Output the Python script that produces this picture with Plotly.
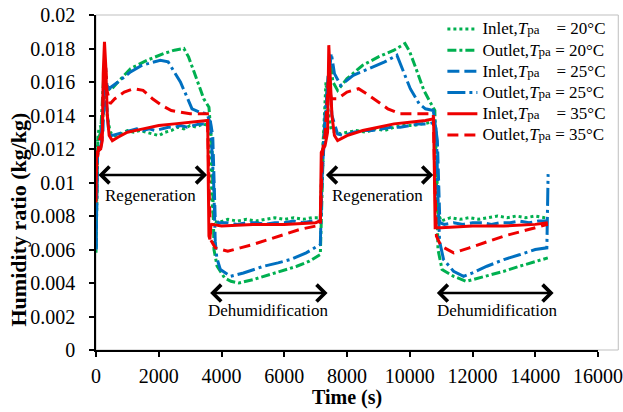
import plotly.graph_objects as go

# ---- measured humidity ratio (kg/kg) vs time (s) ----
# Inlet, Tpa = 20 C
t_in20 = [0, 30, 60, 100, 200, 260, 300, 360, 450, 600, 800, 1000, 1200, 1400, 1600, 1800,
          2000, 2200, 2400, 2600, 2800, 3000, 3200, 3400, 3600, 3650, 3700, 3750, 3900, 4200,
          4500, 4800, 5100, 5400, 5700, 6000, 6300, 6600, 6900, 7150, 7200, 7250, 7330, 7400,
          7500, 7650, 7800, 8000, 8300, 8600, 8900, 9200, 9500, 9800, 10100, 10400, 10700,
          10800, 10850, 10900, 11000, 11300, 11600, 11900, 12200, 12500, 12800, 13100, 13400,
          13700, 14000, 14300, 14400]
w_in20 = [0.0058, 0.0100, 0.0127, 0.0133, 0.0134, 0.0150, 0.0158, 0.0140, 0.0130, 0.0128,
          0.0129, 0.0131, 0.0130, 0.0131, 0.0130, 0.0129, 0.0128, 0.0130, 0.0131, 0.0133,
          0.0132, 0.0134, 0.0133, 0.0135, 0.0134, 0.0118, 0.0088, 0.0077, 0.0076, 0.0078,
          0.0077, 0.0078, 0.0077, 0.0078, 0.0079, 0.0078, 0.0079, 0.0078, 0.0079, 0.0079,
          0.0112, 0.0128, 0.0160, 0.0142, 0.0131, 0.0130, 0.0129, 0.0130, 0.0131, 0.0130,
          0.0132, 0.0131, 0.0133, 0.0134, 0.0134, 0.0135, 0.0136, 0.0135, 0.0115, 0.0082,
          0.0077, 0.0079, 0.0078, 0.0079, 0.0078, 0.0079, 0.0080, 0.0079, 0.0080, 0.0079,
          0.0080, 0.0079, 0.0079]

# Outlet, Tpa = 20 C
t_out20 = [0, 50, 150, 250, 320, 460, 700, 1100, 1630, 2160, 2500, 2800, 2950, 3115, 3300,
           3434, 3600, 3700, 3760, 3860, 4100, 4300, 4550, 5000, 5350, 5900, 6400, 6800,
           7150, 7200, 7250, 7350, 7450, 7550, 7700, 8000, 8500, 9000, 9500, 9850, 10000,
           10200, 10450, 10650, 10800, 10850, 10900, 11030, 11400, 11800, 12000, 12460,
           13000, 13500, 14000, 14400]
w_out20 = [0.0060, 0.0125, 0.0130, 0.0165, 0.0158, 0.0155, 0.0160, 0.0168, 0.0173, 0.0177,
           0.0179, 0.0180, 0.0175, 0.0166, 0.0157, 0.0150, 0.0145, 0.0120, 0.0060, 0.0050,
           0.0043, 0.0041, 0.0040, 0.0042, 0.0044, 0.0047, 0.0050, 0.0053, 0.0057, 0.0090,
           0.0125, 0.0150, 0.0175, 0.0160, 0.0155, 0.0162, 0.0170, 0.0175, 0.0179, 0.0183,
           0.0178, 0.0168, 0.0155, 0.0148, 0.0143, 0.0100, 0.0060, 0.0048, 0.0044, 0.0041,
           0.0042, 0.0044, 0.0047, 0.0050, 0.0053, 0.0055]

# Inlet, Tpa = 25 C
t_in25 = [0, 40, 80, 150, 220, 270, 320, 400, 500, 700, 900, 1100, 1300, 1500, 1700, 1900,
          2100, 2300, 2500, 2700, 2900, 3100, 3300, 3500, 3650, 3720, 3760, 3800, 3900, 4200,
          4500, 4800, 5100, 5400, 5700, 6000, 6300, 6600, 6900, 7150, 7210, 7280, 7350, 7420,
          7520, 7700, 7900, 8200, 8500, 8800, 9100, 9400, 9700, 10000, 10300, 10600, 10800,
          10880, 10920, 10960, 11100, 11400, 11700, 12000, 12300, 12600, 12900, 13200, 13500,
          13800, 14100, 14400]
w_in25 = [0.0060, 0.0115, 0.0119, 0.0121, 0.0130, 0.0160, 0.0150, 0.0132, 0.0128, 0.0129,
          0.0130, 0.0131, 0.0132, 0.0131, 0.0132, 0.0131, 0.0132, 0.0133, 0.0133, 0.0134,
          0.0133, 0.0134, 0.0135, 0.0135, 0.0136, 0.0128, 0.0100, 0.0078, 0.0076, 0.0076,
          0.0075, 0.0076, 0.0076, 0.0075, 0.0076, 0.0076, 0.0077, 0.0076, 0.0077, 0.0077,
          0.0105, 0.0125, 0.0150, 0.0170, 0.0140, 0.0129, 0.0128, 0.0130, 0.0131, 0.0131,
          0.0132, 0.0133, 0.0133, 0.0134, 0.0135, 0.0135, 0.0136, 0.0125, 0.0095, 0.0076,
          0.0075, 0.0076, 0.0075, 0.0076, 0.0076, 0.0075, 0.0076, 0.0076, 0.0077, 0.0076,
          0.0077, 0.0077]

# Outlet, Tpa = 25 C
t_out25 = [0, 50, 150, 250, 300, 350, 410, 700, 1100, 1470, 2050, 2300, 2430, 2690, 2900,
           3060, 3300, 3540, 3650, 3750, 3800, 3850, 3965, 4280, 4700, 5345, 5800, 6195,
           6700, 7150, 7200, 7300, 7400, 7500, 7600, 7800, 8200, 8700, 9200, 9590, 9800,
           10017, 10300, 10500, 10750, 10850, 10900, 10950, 11078, 11396, 11715, 12000,
           12460, 13000, 13520, 14000, 14370, 14400, 14410]
w_out25 = [0.0060, 0.0118, 0.0122, 0.0160, 0.0170, 0.0158, 0.0156, 0.0160, 0.0166, 0.0170,
           0.0173, 0.0172, 0.0168, 0.0160, 0.0151, 0.0144, 0.0142, 0.0141, 0.0135, 0.0100,
           0.0065, 0.0055, 0.0048, 0.0044, 0.0046, 0.0050, 0.0052, 0.0054, 0.0058, 0.0063,
           0.0100, 0.0140, 0.0160, 0.0177, 0.0165, 0.0158, 0.0164, 0.0168, 0.0172, 0.0176,
           0.0166, 0.0156, 0.0147, 0.0144, 0.0143, 0.0130, 0.0090, 0.0065, 0.0054, 0.0047,
           0.0044, 0.0046, 0.0050, 0.0054, 0.0057, 0.0060, 0.0061, 0.0085, 0.0105]

# Inlet, Tpa = 35 C
t_in35 = [0, 20, 150, 200, 230, 270, 310, 360, 420, 520, 700, 1000, 1500, 2000, 2500, 3000,
          3500, 3560, 3580, 3600, 3630, 3660, 3700, 4000, 5000, 6000, 7000, 7150, 7180, 7300,
          7380, 7420, 7460, 7520, 7600, 7700, 8000, 8500, 9000, 9500, 10000, 10500, 10760,
          10790, 10810, 11000, 12000, 13000, 14000, 14400]
w_in35 = [0.0088, 0.0118, 0.0120, 0.0125, 0.0165, 0.0184, 0.0170, 0.0140, 0.0128, 0.0125,
          0.0127, 0.0130, 0.0132, 0.0134, 0.0135, 0.0136, 0.0137, 0.0137, 0.0100, 0.0068,
          0.0066, 0.0074, 0.0075, 0.0074, 0.0075, 0.0075, 0.0076, 0.0077, 0.0118, 0.0122,
          0.0130, 0.0182, 0.0165, 0.0140, 0.0128, 0.0125, 0.0128, 0.0131, 0.0133, 0.0135,
          0.0136, 0.0137, 0.0138, 0.0100, 0.0073, 0.0073, 0.0074, 0.0074, 0.0075, 0.0076]

# Outlet, Tpa = 35 C
t_out35 = [0, 100, 200, 250, 300, 350, 450, 600, 900, 1200, 1500, 1800, 2100, 2400, 2700,
           3000, 3300, 3550, 3600, 3650, 3800, 4200, 4600, 5000, 5500, 6000, 6500, 7000,
           7150, 7200, 7250, 7300, 7400, 7500, 7700, 8000, 8370, 8700, 9000, 9300, 9700,
           10200, 10750, 10800, 10850, 11000, 11400, 11900, 12500, 13000, 13600, 14000, 14400]
w_out35 = [0.0105, 0.0125, 0.0130, 0.0165, 0.0172, 0.0155, 0.0147, 0.0150, 0.0154, 0.0156,
           0.0155, 0.0150, 0.0146, 0.0143, 0.0142, 0.0141, 0.0141, 0.0141, 0.0100, 0.0066,
           0.0061, 0.0059, 0.0061, 0.0063, 0.0066, 0.0069, 0.0072, 0.0074, 0.0075, 0.0110,
           0.0125, 0.0128, 0.0160, 0.0150, 0.0150, 0.0154, 0.0156, 0.0152, 0.0148, 0.0144,
           0.0141, 0.0141, 0.0141, 0.0100, 0.0068, 0.0062, 0.0058, 0.0061, 0.0065, 0.0068,
           0.0071, 0.0073, 0.0075]

# ---- axis ticks ----
x_ticks = [0, 2000, 4000, 6000, 8000, 10000, 12000, 14000, 16000]
x_tick_labels = ["0", "2000", "4000", "6000", "8000", "10000", "12000", "14000", "16000"]
y_ticks = [0, 0.002, 0.004, 0.006, 0.008, 0.01, 0.012, 0.014, 0.016, 0.018, 0.02]
y_tick_labels = ["0", "0.002", "0.004", "0.006", "0.008", "0.01", "0.012", "0.014",
                 "0.016", "0.018", "0.02"]

# ---- operating phases: arrow span, arrow height, label position ----
phase_names = ["Regeneration", "Dehumidification", "Regeneration", "Dehumidification"]
phase_x0 = [30, 3590, 7280, 10815]
phase_x1 = [3540, 7380, 10750, 14585]
phase_y = [0.01045, 0.0034, 0.01045, 0.0034]
phase_text_x = [1730, 5490, 8980, 12780]
phase_text_y = [0.00925, 0.00233, 0.00925, 0.00233]

GREEN = "#00B050"
BLUE = "#0070C0"
RED = "#EE0000"
FONT = "Liberation Serif, Times New Roman, serif"
NB = "\u00a0"


def legend_label(kind, gap, temp):
    # legend rows are laid out on a 14px line; the visible text is set at 17px
    return (f'<span style="font-size:17px">{kind},<i>T</i></span>'
            f'<span style="font-size:13px">pa</span>'
            f'<span style="font-size:17px">{NB * gap}= {temp}°C</span>')


series = [
    (t_in20, w_in20, legend_label("Inlet", 4, 20), GREEN, "dot"),
    (t_out20, w_out20, legend_label("Outlet", 1, 20), GREEN, "dashdot"),
    (t_in25, w_in25, legend_label("Inlet", 4, 25), BLUE, "12px,5px"),
    (t_out25, w_out25, legend_label("Outlet", 1, 25), BLUE, "18px,4px,3px,4px"),
    (t_in35, w_in35, legend_label("Inlet", 4, 35), RED, "solid"),
    (t_out35, w_out35, legend_label("Outlet", 1, 35), RED, "11px,6px"),
]

fig = go.Figure()
for t, w, name, color, dash in series:
    assert len(t) == len(w), name
    fig.add_trace(go.Scatter(
        x=t, y=w, mode="lines", name=name,
        line=dict(color=color, width=3, dash=dash),
    ))

# double-headed phase arrows and their labels
for name, x0, x1, ya, xt, yt in zip(phase_names, phase_x0, phase_x1, phase_y,
                                    phase_text_x, phase_text_y):
    fig.add_annotation(
        x=x1, y=ya, ax=x0, ay=ya, xref="x", yref="y", axref="x", ayref="y",
        text="", showarrow=True, arrowhead=4, arrowside="end+start",
        arrowsize=1.3, arrowwidth=2.5, arrowcolor="black", standoff=0, startstandoff=0,
    )
    fig.add_annotation(
        x=xt, y=yt, xref="x", yref="y", text=name, showarrow=False,
        font=dict(family=FONT, size=17, color="black"),
    )

# axis titles
fig.add_annotation(
    x=0.5, y=0, xref="paper", yref="paper", xanchor="center", yanchor="middle",
    yshift=-47, text="<b>Time (s)</b>", showarrow=False,
    font=dict(family=FONT, size=20, color="black"),
)
fig.add_annotation(
    x=0, y=0.5, xref="paper", yref="paper", xanchor="center", yanchor="middle",
    xshift=-78, yshift=-37, text="<b>Humidity ratio (kg/kg)</b>", textangle=-90,
    showarrow=False, font=dict(family=FONT, size=22, color="black"),
)

# plot-area outline (extends a little past the last x tick)
fig.add_shape(type="rect", xref="paper", yref="paper", x0=0, x1=1.0404, y0=0, y1=1,
              line=dict(color="#BFBFBF", width=1), layer="below")

fig.update_layout(
    width=623, height=412, autosize=False,
    margin=dict(l=96, r=25, t=15, b=62, pad=0, autoexpand=False),
    paper_bgcolor="white", plot_bgcolor="white",
    font=dict(family=FONT, size=20, color="black"),
    showlegend=True,
    legend=dict(
        x=0.690, y=1.005, xanchor="left", yanchor="top",
        bgcolor="rgba(0,0,0,0)", borderwidth=0,
        font=dict(family=FONT, size=14, color="black"),
        itemwidth=30, tracegroupgap=0,
    ),
    xaxis=dict(
        range=[0, 16000], tickvals=x_ticks, ticktext=x_tick_labels, automargin=False,
        showgrid=False, zeroline=False, showline=True, linecolor="black", linewidth=1.5,
        ticks="outside", ticklen=5, tickwidth=1.5, tickcolor="black", ticklabelstandoff=2,
        tickfont=dict(family=FONT, size=20, color="black"),
    ),
    yaxis=dict(
        range=[0, 0.02], tickvals=y_ticks, ticktext=y_tick_labels, automargin=False,
        showgrid=False, zeroline=False, showline=True, linecolor="black", linewidth=1.5,
        ticks="outside", ticklen=5, tickwidth=1.5, tickcolor="black", ticklabelstandoff=10,
        tickfont=dict(family=FONT, size=20, color="black"),
    ),
)

fig.write_html("out.html")
